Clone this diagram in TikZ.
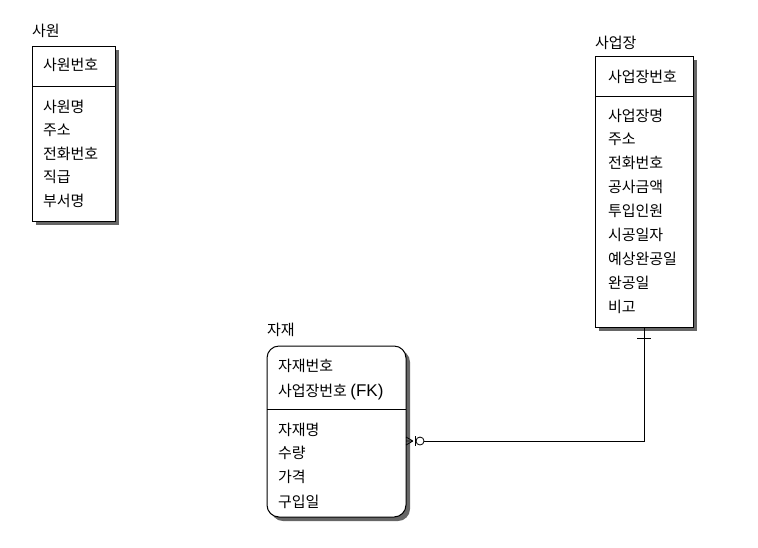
\documentclass[tikz,border=0pt]{standalone}
\usepackage{fontspec}
\setmainfont{Noto Sans CJK KR}
\newfontfamily\latinfk{Liberation Sans}
\usetikzlibrary{shadows}
\begin{document}
\begin{tikzpicture}[x=1pt,y=-1pt,
  every node/.style={inner sep=0pt,outer sep=0pt,font=\fontsize{15}{17}\selectfont},
  entbox/.style={draw,line width=1pt,fill=white,anchor=north west,
    drop shadow={shadow xshift=4pt,shadow yshift=-4pt,fill=black!60,opacity=1}},
  lbl/.style={anchor=base west},
  rel/.style={line width=1pt}]
\useasboundingbox (0,0) rectangle (758,547);
% 사원
\node[lbl] (t1) at (32,36) {사원};
\node[entbox,minimum width=83pt,minimum height=175pt] (sawon) at (32,46) {};
\draw[rel] (32,86) -- (115,86);
\node[lbl] (s1) at (43,70) {사원번호};
\node[lbl] (s2) at (43,112) {사원명};
\node[lbl] (s3) at (43,135) {주소};
\node[lbl] (s4) at (43,159) {전화번호};
\node[lbl] (s5) at (43,182) {직급};
\node[lbl] (s6) at (43,206) {부서명};
% 사업장
\node[lbl] (t2) at (595,48) {사업장};
\node[entbox,minimum width=98pt,minimum height=271pt] (saeop) at (595,56) {};
\draw[rel] (595,96) -- (693,96);
\node[lbl] (b1) at (608,82) {사업장번호};
\node[lbl] (b2) at (608,121) {사업장명};
\node[lbl] (b3) at (608,144) {주소};
\node[lbl] (b4) at (608,168) {전화번호};
\node[lbl] (b5) at (608,192) {공사금액};
\node[lbl] (b6) at (608,216) {투입인원};
\node[lbl] (b7) at (608,240) {시공일자};
\node[lbl] (b8) at (608,264) {예상완공일};
\node[lbl] (b9) at (608,288) {완공일};
\node[lbl] (b10) at (608,312) {비고};
% 자재
\node[lbl] (t3) at (267,335) {자재};
\node[entbox,rounded corners=12pt,minimum width=139pt,minimum height=171pt] (jajae) at (267,346) {};
\draw[rel] (267,409) -- (406,409);
\node[lbl] (j1) at (278,371) {자재번호};
\node[lbl] (j2) at (278,396) {사업장번호 {\latinfk\fontsize{17}{19}\selectfont(FK)}};
\node[lbl] (j3) at (278,435) {자재명};
\node[lbl] (j4) at (278,458) {수량};
\node[lbl] (j5) at (278,482) {가격};
\node[lbl] (j6) at (278,507) {구입일};
% 관계
\coordinate (jend) at ([yshift=-9.5pt]jajae.east);
\coordinate (cf) at ([xshift=7pt]jend);
\draw[rel] (saeop.south) |- ([xshift=18pt]jend);
\draw[rel] ([xshift=-7pt,yshift=-11pt]saeop.south) -- ([xshift=7pt,yshift=-11pt]saeop.south);
\draw[line width=0.8pt] (cf) -- ([yshift=4pt]jend) (cf) -- (jend) (cf) -- ([yshift=-4pt]jend);
\draw[line width=0.8pt] ([xshift=9pt,yshift=5pt]jend) -- ([xshift=9pt,yshift=-5pt]jend);
\draw[line width=0.8pt,fill=white] ([xshift=14pt]jend) circle (4pt);
\end{tikzpicture}
\end{document}
